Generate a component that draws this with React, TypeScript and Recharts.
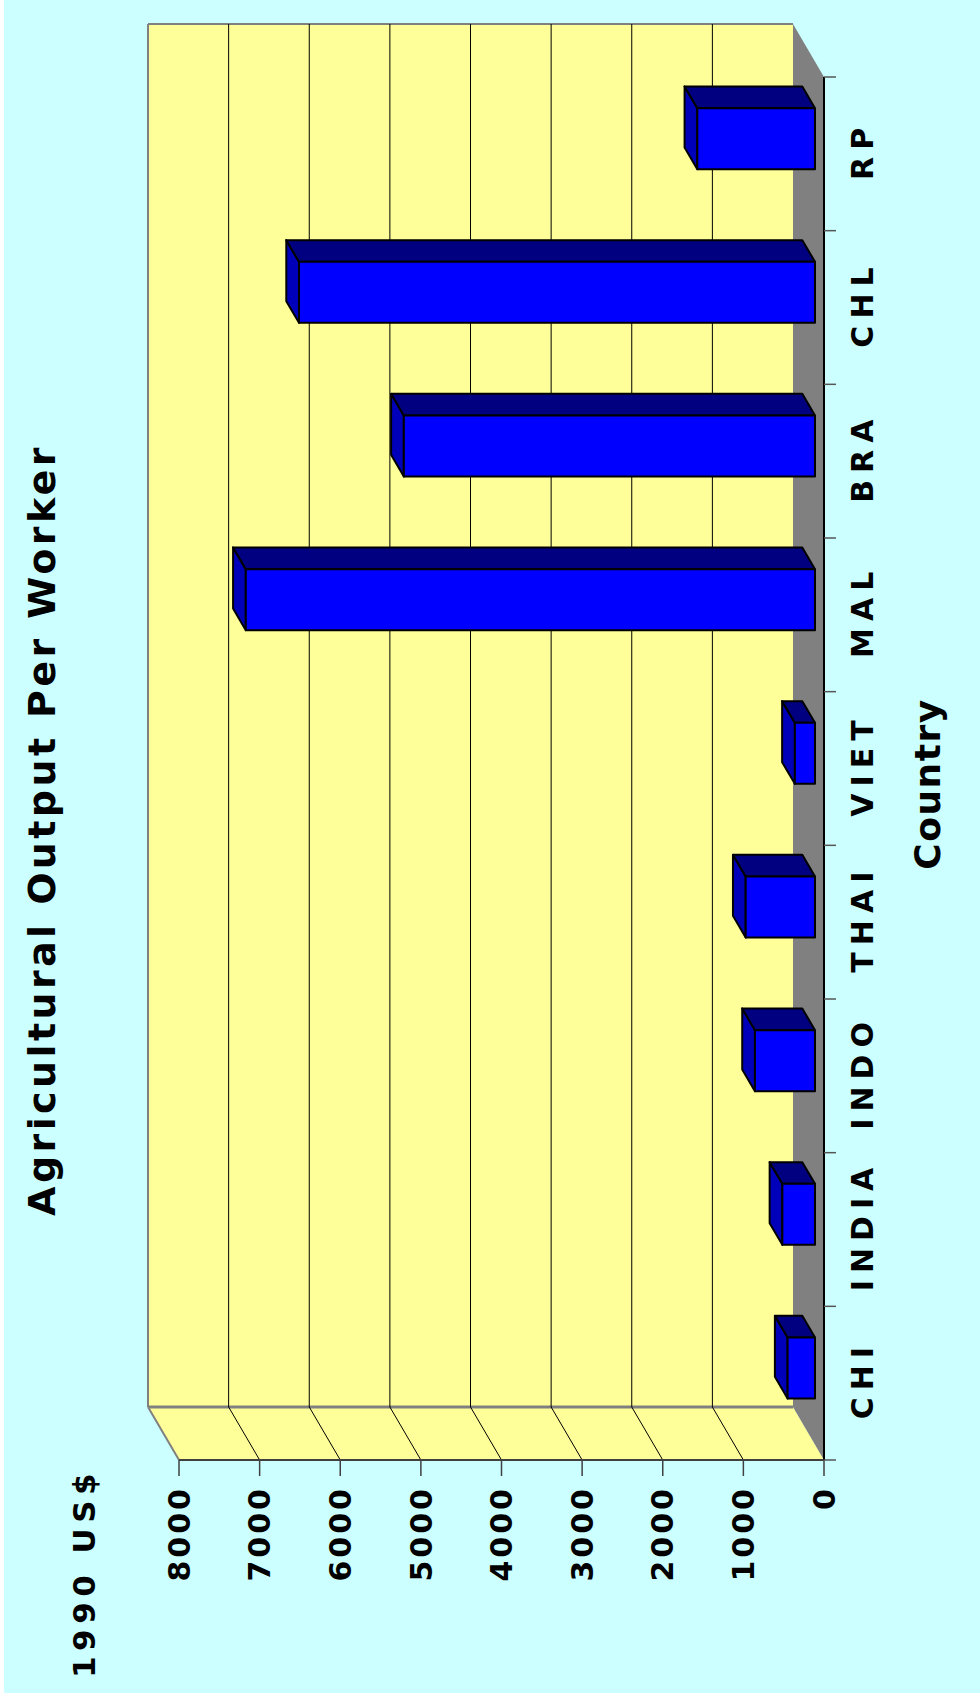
import React from 'react';
import { BarChart, Bar, XAxis, YAxis, CartesianGrid } from 'recharts';

// ---------- data ----------
const CATEGORIES = ['CHI', 'INDIA', 'INDO', 'THAI', 'VIET', 'MAL', 'BRA', 'CHL', 'RP'];
const OUTPUT_PER_WORKER = [340, 405, 745, 860, 250, 7060, 5100, 6400, 1460];
const VALUE_TICKS = [0, 1000, 2000, 3000, 4000, 5000, 6000, 7000, 8000];
const TITLE = 'Agricultural Output Per Worker';
const VALUE_TITLE = '1990 US$';
const CATEGORY_TITLE = 'Country';

const data = CATEGORIES.map((c, i) => ({ country: c, output: OUTPUT_PER_WORKER[i] }));

// ---------- layout (chart drawn upright, then rotated -90deg) ----------
const W = 1702;
const H = 980;
const M = { top: 179, right: 77, bottom: 156, left: 242 };
const PL = M.left;
const PR = W - M.right;
const PT = M.top;
const PB = H - M.bottom;
const DU = 53; // depth offset (front -> back)
const DV = -31;
const F1 = 0.29; // bar front face depth fraction
const F2 = 0.7; // bar back face depth fraction
const FONT = "'DejaVu Sans', sans-serif";
const WALL = '#FFFF99';
const EDGE = '#808080';
const CAT_SPACING = 7;

const Box3D = (p: any) => {
  const { x, y, width: w, height: h } = p;
  if (x == null || y == null || !w || h == null) return null;
  const fx = x + F1 * DU;
  const fy = y + F1 * DV;
  const bx = (F2 - F1) * DU;
  const by = (F2 - F1) * DV;
  const top = `${fx},${fy} ${fx + w},${fy} ${fx + w + bx},${fy + by} ${fx + bx},${fy + by}`;
  const side = `${fx + w},${fy} ${fx + w + bx},${fy + by} ${fx + w + bx},${fy + h + by} ${fx + w},${fy + h}`;
  return (
    <g stroke="#000" strokeWidth={2} strokeLinejoin="round">
      <polygon points={top} fill="#0000BB" />
      <polygon points={side} fill="#000080" />
      <rect x={fx} y={fy} width={w} height={h} fill="#0000FF" />
    </g>
  );
};

const gridLine = (p: any) => {
  const { x1, x2, y1 } = p;
  if (y1 == null) return <g />;
  if (Math.abs(y1 - PB) < 1) return <g />;
  const isTop = Math.abs(y1 - PT) < 1;
  const stroke = isTop ? EDGE : '#000';
  const sw = isTop ? 2 : 1;
  return (
    <g>
      <line x1={x1 + DU} y1={y1 + DV} x2={x2 + DU} y2={y1 + DV} stroke={stroke} strokeWidth={sw} />
      <line x1={x1} y1={y1} x2={x1 + DU} y2={y1 + DV} stroke={stroke} strokeWidth={sw} />
    </g>
  );
};

const CatTick = (p: any) => {
  const { x, y, payload, index } = p;
  const half = payload && payload.offset != null ? payload.offset : (PR - PL) / CATEGORIES.length / 2;
  const lineTop = y - 28;
  const last = index === CATEGORIES.length - 1;
  return (
    <g>
      <line x1={x - half} y1={lineTop} x2={x - half} y2={lineTop + 12} stroke="#555" strokeWidth={1.5} />
      {last ? <line x1={x + half} y1={lineTop} x2={x + half} y2={lineTop + 12} stroke="#555" strokeWidth={1.5} /> : null}
      <text
        x={x + CAT_SPACING / 2}
        y={y}
        dy="0.71em"
        textAnchor="middle"
        fontFamily={FONT}
        fontWeight={700}
        fontSize={30}
        letterSpacing={CAT_SPACING}
        fill="#000"
      >
        {payload.value}
      </text>
    </g>
  );
};

const ValTick = (p: any) => {
  const { x, y, payload } = p;
  return (
    <text
      x={x + 3}
      y={y}
      dy="0.355em"
      textAnchor="end"
      fontFamily={FONT}
      fontWeight={700}
      fontSize={30}
      letterSpacing={3}
      fill="#000"
    >
      {payload.value}
    </text>
  );
};

const Walls = () => (
  <svg width={W} height={H} style={{ position: 'absolute', left: 0, top: 0 }}>
    {/* back wall */}
    <rect x={PL + DU} y={PT + DV} width={PR - PL} height={PB - PT} fill={WALL} />
    {/* side wall */}
    <polygon points={`${PL + DU},${PT + DV} ${PL + DU},${PB + DV} ${PL},${PB} ${PL},${PT}`} fill={WALL} />
    {/* floor */}
    <polygon points={`${PL + DU},${PB + DV} ${PR + DU},${PB + DV} ${PR},${PB} ${PL},${PB}`} fill={EDGE} />
    {/* wall edges */}
    <line x1={PR + DU} y1={PT + DV} x2={PR + DU} y2={PB + DV} stroke={EDGE} strokeWidth={2} />
    <line x1={PL + DU} y1={PT + DV} x2={PL + DU} y2={PB + DV} stroke={EDGE} strokeWidth={3} />
    {/* titles */}
    <text x={872} y={55} textAnchor="middle" fontFamily={FONT} fontWeight={700} fontSize={38} letterSpacing={3.4} fill="#000">
      {TITLE}
    </text>
    <text x={24} y={95} textAnchor="start" fontFamily={FONT} fontWeight={700} fontSize={31} letterSpacing={5.5} fill="#000">
      {VALUE_TITLE}
    </text>
    <text x={918} y={940} textAnchor="middle" fontFamily={FONT} fontWeight={700} fontSize={36} letterSpacing={1.5} fill="#000">
      {CATEGORY_TITLE}
    </text>
  </svg>
);

export default function App() {
  return (
    <div
      style={{
        position: 'absolute',
        left: 0,
        top: 0,
        width: 980,
        height: 1702,
        overflow: 'hidden',
        background: '#FFFFFF',
      }}
    >
      <div style={{ position: 'absolute', left: 4, top: 0, width: 976, height: 1693, background: '#CCFFFF' }} />
      <div
        style={{
          position: 'absolute',
          left: 0,
          top: 0,
          width: W,
          height: H,
          transformOrigin: '0 0',
          transform: `translate(0px, ${W}px) rotate(-90deg)`,
        }}
      >
        <Walls />
        <div style={{ position: 'absolute', left: 0, top: 0 }}>
          <BarChart
            width={W}
            height={H}
            data={data}
            margin={{ top: M.top, right: M.right, bottom: 0, left: 0 }}
            barCategoryGap="30%"
          >
            <CartesianGrid vertical={false} horizontal={gridLine} />
            <XAxis
              dataKey="country"
              height={M.bottom}
              interval={0}
              axisLine={{ stroke: '#000', strokeWidth: 2 }}
              tickLine={false}
              tickSize={12}
              tickMargin={16}
              tick={CatTick}
            />
            <YAxis
              type="number"
              domain={[0, 8000]}
              ticks={VALUE_TICKS}
              interval={0}
              width={M.left}
              axisLine={{ stroke: '#404040', strokeWidth: 2 }}
              tickLine={{ stroke: '#404040', strokeWidth: 1.5 }}
              tickSize={16}
              tickMargin={13}
              tick={ValTick}
            />
            <Bar dataKey="output" isAnimationActive={false} shape={Box3D} />
          </BarChart>
        </div>
      </div>
    </div>
  );
}
